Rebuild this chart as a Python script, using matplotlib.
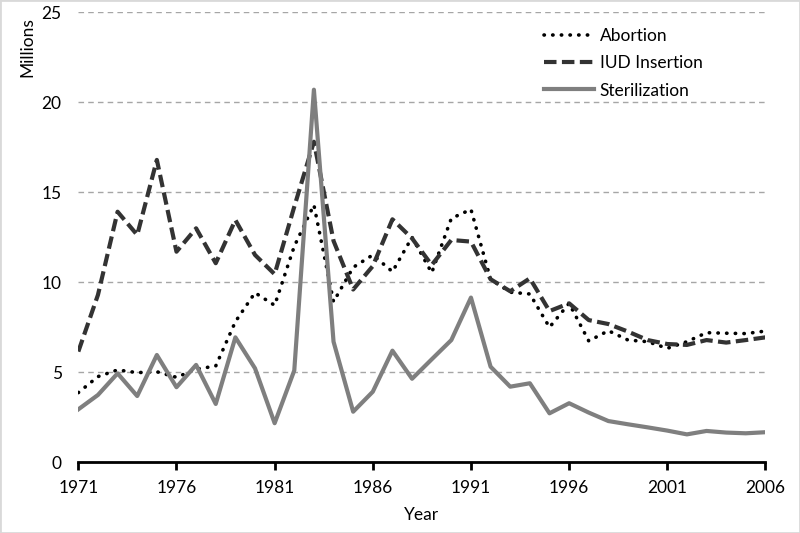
import matplotlib
matplotlib.use("Agg")
import matplotlib.pyplot as plt
from matplotlib.patches import Rectangle

years = list(range(1971, 2007))
abortion = [3.87, 4.76, 5.13, 4.98, 5.03, 4.72, 5.17, 5.35, 7.81, 9.42,
            8.72, 12.0, 14.3, 8.92, 10.83, 11.52, 10.59, 12.5, 10.53, 13.55,
            14.05, 10.17, 9.45, 9.35, 7.5, 8.83, 6.74, 7.31, 6.79, 6.7,
            6.33, 6.7, 7.2, 7.17, 7.15, 7.29]
iud = [6.15, 9.3, 13.92, 12.63, 16.8, 11.7, 13.0, 11.06, 13.46, 11.52,
       10.45, 14.2, 17.81, 12.3, 9.6, 10.9, 13.5, 12.44, 10.96, 12.35,
       12.26, 10.17, 9.5, 10.22, 8.4, 8.83, 7.9, 7.68, 7.26, 6.79,
       6.57, 6.52, 6.79, 6.65, 6.79, 6.94]
sterilization = [2.94, 3.74, 4.94, 3.68, 5.96, 4.17, 5.41, 3.24, 6.94, 5.22,
                 2.17, 5.1, 20.7, 6.7, 2.81, 3.92, 6.2, 4.64, 5.72, 6.79,
                 9.15, 5.31, 4.2, 4.39, 2.72, 3.28, 2.76, 2.29, 2.11, 1.94,
                 1.76, 1.55, 1.74, 1.65, 1.61, 1.67]
xticks = [1971, 1976, 1981, 1986, 1991, 1996, 2001, 2006]
yticks = [0, 5, 10, 15, 20, 25]

plt.rcParams['font.family'] = ['Lato', 'DejaVu Sans']

fig = plt.figure(figsize=(8, 5.33), dpi=100)
ax = fig.add_axes([0.0979, 0.1327, 0.8589, 0.8442])

ax.plot(years, abortion, color='black', lw=2.6, linestyle=(0, (0.1, 2.3)),
        dash_capstyle='round', label='Abortion')
ax.plot(years, iud, color='#333333', lw=3, linestyle=(0, (3, 1.3)),
        label='IUD Insertion')
ax.plot(years, sterilization, color='#7f7f7f', lw=3, label='Sterilization')

ax.set_xlim(1971, 2006)
ax.set_ylim(0, 25)
ax.set_xticks(xticks)
ax.set_yticks(yticks)
ax.yaxis.grid(True, linestyle=(0, (4, 3)), color='#a6a6a6', lw=1)
ax.set_axisbelow(True)
for s in ['top', 'right', 'left']:
    ax.spines[s].set_visible(False)
ax.spines['bottom'].set_linewidth(2)
ax.spines['bottom'].set_color('black')
ax.tick_params(axis='x', direction='out', length=6, width=2, pad=7, labelsize=12.5)
ax.tick_params(axis='y', length=0, pad=12, labelsize=12.5)

ax.set_xlabel('Year', fontsize=12.5, labelpad=8)
fig.text(27 / 800, 1 - 47 / 533, 'Millions', rotation=90, fontsize=12.5,
         ha='center', va='center')

ax.legend(loc='upper left', bbox_to_anchor=(544 / 800, 1 - 28 / 533),
          bbox_transform=fig.transFigure, frameon=False, fontsize=12.5,
          handlelength=2.9, handletextpad=0.3, labelspacing=0.65,
          borderpad=0, borderaxespad=0)

fig.patches.append(Rectangle((0, 0), 1, 1, transform=fig.transFigure,
                             fill=False, edgecolor='#d9d9d9', lw=2))

fig.savefig('out.png', dpi=100)
